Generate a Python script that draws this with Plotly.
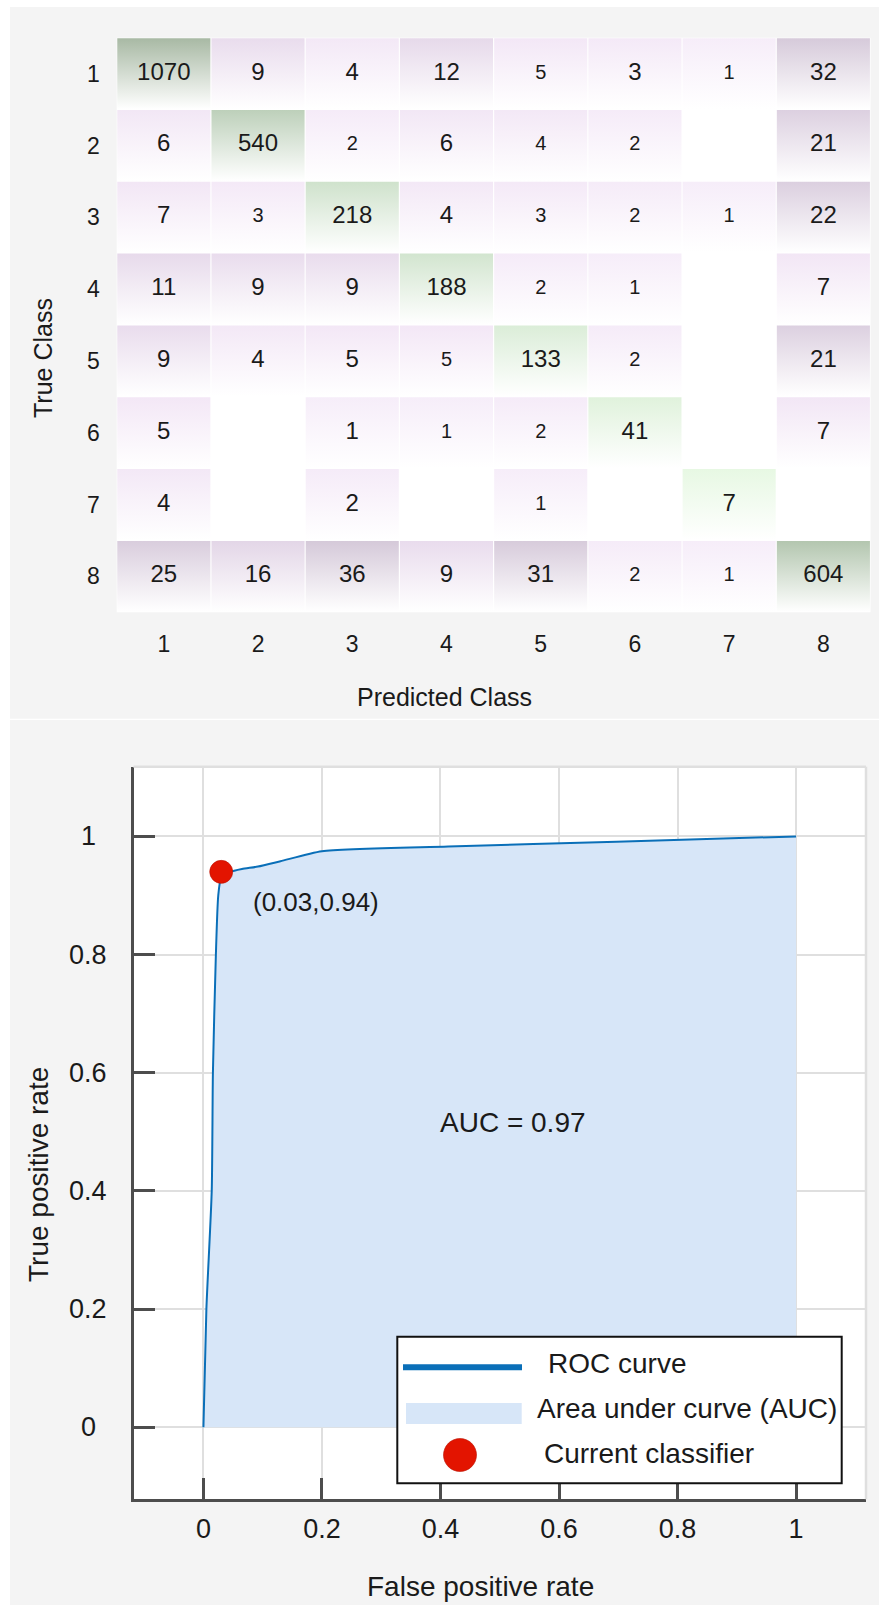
import math
import plotly.graph_objects as go
from plotly.colors import sample_colorscale

# ---------------------------------------------------------------- data
CLASSES = ["1", "2", "3", "4", "5", "6", "7", "8"]

# rows = true class, columns = predicted class (0 = no samples)
CONFUSION = [
    [1070,   9,   4,  12,   5,   3,   1,  32],
    [   6, 540,   2,   6,   4,   2,   0,  21],
    [   7,   3, 218,   4,   3,   2,   1,  22],
    [  11,   9,   9, 188,   2,   1,   0,   7],
    [   9,   4,   5,   5, 133,   2,   0,  21],
    [   5,   0,   1,   1,   2,  41,   0,   7],
    [   4,   0,   2,   0,   1,   0,   7,   0],
    [  25,  16,  36,   9,  31,   2,   1, 604],
]

# cells whose count is printed in the smaller type size
SMALL_LABEL = [
    [0, 0, 0, 0, 1, 0, 1, 0],
    [0, 0, 1, 0, 1, 1, 0, 0],
    [0, 1, 0, 0, 1, 1, 1, 0],
    [0, 0, 0, 0, 1, 1, 0, 0],
    [0, 0, 0, 1, 0, 1, 0, 0],
    [0, 0, 0, 1, 1, 0, 0, 0],
    [0, 0, 0, 0, 1, 0, 0, 0],
    [0, 0, 0, 0, 0, 1, 1, 0],
]

# ROC curve
FPR = [0, 0.005, 0.014, 0.016, 0.021, 0.025, 0.03, 0.045, 0.065, 0.092,
       0.13, 0.2, 0.413, 0.697, 1.0]
TPR = [0, 0.2, 0.4, 0.6, 0.8, 0.9, 0.93, 0.94, 0.945, 0.949,
       0.958, 0.975, 0.983, 0.991, 1.0]
OP_FPR, OP_TPR = 0.03, 0.94
AUC = 0.97

ROC_TICKS = [0, 0.2, 0.4, 0.6, 0.8, 1]
ROC_TICKTEXT = ["0", "0.2", "0.4", "0.6", "0.8", "1"]

# ---------------------------------------------------------------- style
W, H = 879, 1605
FONT = "Liberation Sans, Arial, Helvetica, sans-serif"
INK = "#1a1a1a"
PAGE = "#f4f4f4"
AXIS = "#4d4d4d"
GRID = "#dfdfdf"
ROC_BLUE = "#0a6fb8"
AUC_FILL = "#d7e6f8"
DOT_RED = "#e31400"

DIAG_SCALE = [[0, "#eefbea"], [0.3, "#e7f8e3"], [0.55, "#e0f2dc"],
              [0.7, "#dbedd8"], [0.77, "#cfe2cc"], [0.9, "#bed1bb"],
              [0.92, "#b2c5ae"], [1, "#a8b9a4"]]
OFF_SCALE = [[0, "#f6edf9"], [0.55, "#f2e6f5"], [0.6, "#e9dced"],
             [0.78, "#e3d6e7"], [0.84, "#dcd0e0"], [1, "#d5c9d9"]]


def px(x):
    return x / W


def py(y):
    return 1 - y / H


fig = go.Figure()

# ---------------------------------------------------------------- confusion matrix
n = len(CLASSES)
diag_max = max(CONFUSION[i][i] for i in range(n))
off_max = max(CONFUSION[i][j] for i in range(n) for j in range(n) if i != j)
inset = 0.006

tx, ty, tt, ts = [], [], [], []
for r in range(n):
    for c in range(n):
        v = CONFUSION[r][c]
        if v == 0:
            continue
        if r == c:
            t = math.log(v) / math.log(diag_max)
            top = sample_colorscale(DIAG_SCALE, [t])[0]
        else:
            t = math.log(v) / math.log(off_max)
            top = sample_colorscale(OFF_SCALE, [t])[0]
        xc, yc = c + 1, r + 1
        x0, x1 = xc - 0.5 + inset, xc + 0.5 - inset
        y0, y1 = yc - 0.5 + inset, yc + 0.5 - inset
        # each cell fades from its colour at the top edge to white at the bottom
        fig.add_trace(go.Scatter(
            x=[x0, x1, x1, x0, x0], y=[y0, y0, y1, y1, y0],
            mode="none", fill="toself",
            fillgradient=dict(type="vertical",
                              colorscale=[[0, top], [1, "#ffffff"]],
                              start=y0, stop=y1),
            hoverinfo="skip", showlegend=False, xaxis="x", yaxis="y"))
        tx.append(xc)
        ty.append(yc)
        tt.append(str(v))
        ts.append(20 if SMALL_LABEL[r][c] else 24)

fig.add_trace(go.Scatter(
    x=tx, y=ty, text=tt, mode="text",
    textfont=dict(family=FONT, size=ts, color=INK),
    hoverinfo="skip", showlegend=False, xaxis="x", yaxis="y"))

# ---------------------------------------------------------------- ROC
fig.add_trace(go.Scatter(
    x=FPR, y=TPR, mode="lines", fill="tozeroy", fillcolor=AUC_FILL,
    line=dict(color=ROC_BLUE, width=2, shape="spline", smoothing=0.6),
    name="ROC curve", showlegend=False, xaxis="x2", yaxis="y2"))
fig.add_trace(go.Scatter(
    x=[OP_FPR], y=[OP_TPR], mode="markers",
    marker=dict(size=23, color=DOT_RED, line=dict(color="#b81000", width=0.6)),
    name="Current classifier", showlegend=False, xaxis="x2", yaxis="y2"))

annotations = []

# operating point and AUC labels
annotations.append(dict(
    x=0.0795, y=0.889, xref="x2", yref="y2", xanchor="left", yanchor="middle",
    text=f"({OP_FPR:g},{OP_TPR:g})", showarrow=False,
    font=dict(family=FONT, size=26, color=INK)))
annotations.append(dict(
    x=0.522, y=0.516, xref="x2", yref="y2", xanchor="center", yanchor="middle",
    text=f"AUC = {AUC:g}", showarrow=False,
    font=dict(family=FONT, size=28, color=INK)))

# ROC y tick labels, centred in the left gutter
for v, s in zip(ROC_TICKS, ROC_TICKTEXT):
    annotations.append(dict(
        x=px(88), y=v, xref="paper", yref="y2", xanchor="center",
        yanchor="middle", text=s, showarrow=False,
        font=dict(family=FONT, size=27, color=INK)))

# axis titles
annotations += [
    dict(x=px(43), y=py(358), xref="paper", yref="paper", text="True Class",
         textangle=-90, showarrow=False, xanchor="center", yanchor="middle",
         font=dict(family=FONT, size=25, color=INK)),
    dict(x=px(444.5), y=py(697), xref="paper", yref="paper",
         text="Predicted Class", showarrow=False, xanchor="center",
         yanchor="middle", font=dict(family=FONT, size=25, color=INK)),
    dict(x=px(38), y=py(1175), xref="paper", yref="paper",
         text="True positive rate", textangle=-90, showarrow=False,
         xanchor="center", yanchor="middle",
         font=dict(family=FONT, size=28, color=INK)),
    dict(x=px(480), y=py(1586), xref="paper", yref="paper",
         text="False positive rate", showarrow=False, xanchor="center",
         yanchor="middle", font=dict(family=FONT, size=28, color=INK)),
]

# legend entries
LEG_FONT = dict(family=FONT, size=28, color=INK)
annotations += [
    dict(x=px(546), y=py(1363), xref="paper", yref="paper", text="ROC curve",
         showarrow=False, xanchor="left", yanchor="middle", font=LEG_FONT),
    dict(x=px(535), y=py(1408), xref="paper", yref="paper",
         text="Area under curve (AUC)", showarrow=False, xanchor="left",
         yanchor="middle", font=LEG_FONT),
    dict(x=px(542), y=py(1453), xref="paper", yref="paper",
         text="Current classifier", showarrow=False, xanchor="left",
         yanchor="middle", font=LEG_FONT),
]

shapes = [
    # white page margins and the divider between the two panels
    dict(type="rect", xref="paper", yref="paper", x0=0, x1=px(10), y0=0, y1=1,
         fillcolor="white", line_width=0, layer="below"),
    dict(type="rect", xref="paper", yref="paper", x0=0, x1=1, y0=py(7), y1=1,
         fillcolor="white", line_width=0, layer="below"),
    dict(type="rect", xref="paper", yref="paper", x0=0, x1=1, y0=py(720),
         y1=py(718.8), fillcolor="white", line_width=0, layer="below"),
    # light frame on the top and right of the ROC axes
    dict(type="line", xref="paper", yref="paper", x0=px(133.5), x1=px(866),
         y0=py(766.7), y1=py(766.7), line=dict(color=GRID, width=2.5)),
    dict(type="line", xref="paper", yref="paper", x0=px(866), x1=px(866),
         y0=py(766.7), y1=py(1499.3), line=dict(color=GRID, width=2.5)),
    # legend box and keys
    dict(type="rect", xref="paper", yref="paper", x0=px(397.3), x1=px(841.7),
         y0=py(1483.3), y1=py(1336.7), fillcolor="white",
         line=dict(color="#111111", width=2), layer="above"),
    dict(type="line", xref="paper", yref="paper", x0=px(403), x1=px(522),
         y0=py(1367.3), y1=py(1367.3), line=dict(color=ROC_BLUE, width=6),
         layer="above"),
    dict(type="rect", xref="paper", yref="paper", x0=px(406), x1=px(521.7),
         y0=py(1424), y1=py(1403), fillcolor=AUC_FILL, line_width=0,
         layer="above"),
    dict(type="circle", xref="paper", yref="paper", x0=px(443.5),
         x1=px(476.5), y0=py(1471.5), y1=py(1438.5), fillcolor=DOT_RED,
         line=dict(color="#b81000", width=0.6), layer="above"),
]

fig.update_layout(
    width=W, height=H,
    margin=dict(l=0, r=0, t=0, b=0),
    paper_bgcolor=PAGE, plot_bgcolor="white",
    showlegend=False,
    font=dict(family=FONT, color=INK),
    annotations=annotations, shapes=shapes,
    xaxis=dict(domain=[px(116.7), px(870.5)], range=[0.5, 8.5], anchor="y",
               tickvals=list(range(1, n + 1)), ticktext=CLASSES,
               showgrid=False, zeroline=False, showline=False, ticks="",
               tickfont=dict(family=FONT, size=23, color=INK),
               ticklabelstandoff=16),
    yaxis=dict(domain=[py(612.3), py(37.7)], range=[8.5, 0.5], anchor="x",
               tickvals=list(range(1, n + 1)), ticktext=CLASSES,
               showgrid=False, zeroline=False, showline=False, ticks="",
               tickfont=dict(family=FONT, size=23, color=INK),
               ticklabelstandoff=16),
    xaxis2=dict(domain=[px(133.5), px(866)], range=[-0.118, 1.118],
                anchor="y2", tickvals=ROC_TICKS, ticktext=ROC_TICKTEXT,
                showgrid=True, gridcolor=GRID, gridwidth=2, zeroline=False,
                showline=True, linecolor=AXIS, linewidth=2.5,
                ticks="inside", ticklen=22, tickwidth=2.5, tickcolor=AXIS,
                tickfont=dict(family=FONT, size=27, color=INK),
                ticklabelstandoff=4),
    yaxis2=dict(domain=[py(1499.3), py(766.7)], range=[-0.122, 1.118],
                anchor="x2", tickvals=ROC_TICKS, showticklabels=False,
                showgrid=True, gridcolor=GRID, gridwidth=2, zeroline=False,
                showline=True, linecolor=AXIS, linewidth=2.5,
                ticks="inside", ticklen=22, tickwidth=2.5, tickcolor=AXIS),
)

fig.write_html("out.html")
